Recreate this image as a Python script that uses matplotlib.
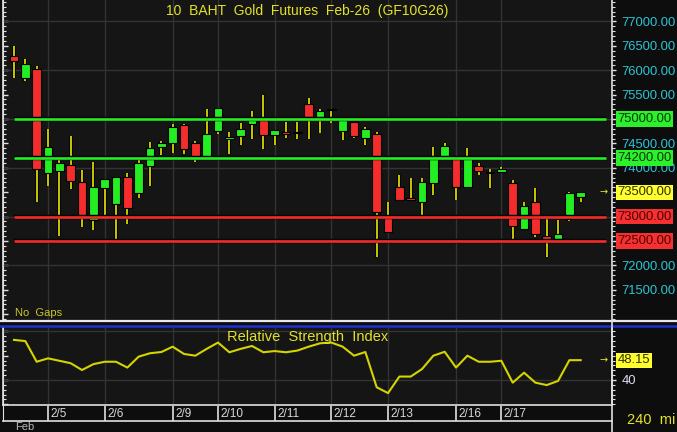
import matplotlib
matplotlib.use('Agg')
import matplotlib.pyplot as plt
import matplotlib.transforms as mtransforms
from matplotlib.lines import Line2D
from matplotlib.ticker import MultipleLocator, FixedLocator, FuncFormatter

# ---------------- data ----------------
opens  = [76290, 75850, 76020, 73900, 73930, 74050, 73700, 72940, 73590, 73250,
          73810, 73480, 74030, 74430, 74500, 74870, 74500, 74200, 74750, 74600,
          74650, 74900, 74970, 74680, 74740, 74710, 75310, 74990, 75210, 74750,
          74940, 74620, 74700, 73010, 73600, 73390, 73300, 73680, 74190, 74170,
          73600, 74040, 73890, 73910, 73680, 72740, 73300, 72600, 72520, 72950,
          73410]
highs  = [76500, 76220, 76090, 74800, 74190, 74650, 73960, 74120, 73780, 73810,
          73900, 74190, 74530, 74550, 74900, 74900, 74550, 75200, 75220, 74740,
          74920, 75170, 75500, 74770, 74940, 74940, 75440, 75200, 75210, 75040,
          74940, 74840, 74730, 73300, 73850, 73800, 73800, 74420, 74500, 74190,
          74400, 74090, 73970, 74020, 73750, 73300, 73580, 72990, 72930, 73500,
          73500]
lows   = [75830, 75780, 73300, 73630, 72600, 73570, 72780, 72720, 73010, 72520,
          72850, 73380, 73630, 74260, 74300, 74280, 74120, 74180, 74700, 74280,
          74470, 74580, 74380, 74470, 74620, 74600, 74580, 74710, 74920, 74570,
          74620, 74470, 72180, 72680, 73350, 73350, 73030, 73440, 74190, 73330,
          73580, 73850, 73580, 73910, 72540, 72740, 72590, 72180, 72520, 72910,
          73290]
closes = [76180, 76120, 73980, 74420, 74100, 73730, 73010, 73600, 73780, 73810,
          73180, 74100, 74410, 74510, 74840, 74380, 74230, 74700, 75220, 74640,
          74800, 75010, 74680, 74770, 74690, 74740, 75040, 75160, 75180, 74990,
          74650, 74790, 73100, 72680, 73350, 73350, 73700, 74250, 74450, 73610,
          74240, 73940, 73920, 73970, 72810, 73220, 72640, 72520, 72650, 73480,
          73500]
rsi = [56.5, 56.0, 47.5, 48.9, 47.9, 46.9, 44.1, 46.5, 47.5, 47.5,
       45.1, 49.6, 51.0, 51.5, 53.7, 50.7, 50.0, 52.8, 55.4, 51.4,
       52.8, 54.0, 51.4, 51.9, 51.4, 52.1, 53.7, 55.1, 55.4, 53.7,
       50.0, 51.5, 37.0, 34.6, 41.4, 41.4, 44.5, 50.0, 51.6, 45.1,
       50.0, 47.5, 47.5, 47.9, 38.9, 43.0, 38.9, 37.9, 39.6, 48.15,
       48.15]
day_labels = ['2/5', '2/6', '2/9', '2/10', '2/11', '2/12', '2/13', '2/16', '2/17']
day_start_idx = [3, 8, 14, 18, 23, 28, 33, 39, 43]
resistance_levels = [75000, 74200]
support_levels = [73000, 72500]
last_price = 73500
last_rsi = 48.15
price_ticks = [71500, 72000, 72500, 73000, 73500, 74000, 74500, 75000, 75500,
               76000, 76500, 77000]
price_grid = [72000, 73000, 74000, 75000, 76000, 77000]
rsi_ticks = [40]
rsi_grid = [40, 60]
title = '10  BAHT  Gold  Futures  Feb-26  (GF10G26)'

# ---------------- style ----------------
W, H = 677, 432
FIG_BG = '#0d0d0d'
AX_BG = '#151515'
GRID = '#333333'
GREEN = '#22ee22'
RED = '#f42c2c'
WICK = '#c8c800'
YEL = '#e2e22a'
CYAN = '#2ec3d3'
FONT = 'Liberation Sans'
LABEL_FS = 9.4
plt.rcParams['font.family'] = [FONT, 'DejaVu Sans']

fig = plt.figure(figsize=(W / 100, H / 100), dpi=100, facecolor=FIG_BG)

def fx(px):
    return px / W

def fy(py):
    return 1 - py / H

AX_L, AX_R = 3, 612
ax = fig.add_axes([fx(AX_L), fy(321), fx(AX_R - AX_L), (321 - 0) / H], facecolor=AX_BG)
axr = fig.add_axes([fx(AX_L), fy(405), fx(AX_R - AX_L), (405 - 327) / H], facecolor=AX_BG, sharex=ax)
axd = fig.add_axes([fx(AX_L), fy(421), fx(AX_R - AX_L), (421 - 405.5) / H], facecolor=FIG_BG, sharex=ax)

n = len(closes)
xs = list(range(n))
ax.set_xlim(-0.97, 52.76)
ax.set_ylim(70861, 77438)
axr.set_ylim(29.7, 61.8)

# grid
for g in price_grid:
    ax.axhline(g, color=GRID, lw=1.0, zorder=0.5)
for d in day_start_idx:
    ax.axvline(d, color=GRID, lw=1.0, zorder=0.5)
    axr.axvline(d, color=GRID, lw=1.0, zorder=0.5)
for g in rsi_grid:
    axr.axhline(g, color=GRID, lw=1.0, zorder=0.5)

# candles
for i in xs:
    o, h, l, c = opens[i], highs[i], lows[i], closes[i]
    col = GREEN if c >= o else RED
    ax.vlines(i, l, h, color='#000000', lw=2.6, zorder=1)
    ax.vlines(i, l, h, color=WICK, lw=1.4, zorder=1.1)
    body = max(abs(c - o), 35)
    bottom = min(o, c) if abs(c - o) >= 35 else (o + c) / 2 - body / 2
    ax.bar(i, body, bottom=bottom, width=0.77, color=col, edgecolor='#000000',
           linewidth=0.8, zorder=2)

# level lines
xr = ax.get_xlim()[1]
for lvl in resistance_levels:
    ax.hlines(lvl, 0, xr - 0.55, color='#000000', lw=3.2, zorder=3)
    ax.hlines(lvl, 0, xr - 0.55, color=GREEN, lw=1.9, zorder=3.1)
for lvl in support_levels:
    ax.hlines(lvl, 0, xr - 0.55, color='#000000', lw=3.2, zorder=3)
    ax.hlines(lvl, 0, xr - 0.55, color=RED, lw=1.9, zorder=3.1)

# rsi line
axr.plot(xs, rsi, color='#d4d400', lw=1.5, zorder=3)

# ---- axes styling ----
for a in (ax, axr):
    for s in a.spines.values():
        s.set_visible(False)
    a.spines['left'].set_visible(True)
    a.spines['left'].set_color('#e0e0e0')
    a.spines['left'].set_linewidth(1.2)
    a.spines['right'].set_visible(True)
    a.spines['right'].set_color('#e0e0e0')
    a.spines['right'].set_linewidth(1.2)
    a.tick_params(axis='x', which='both', bottom=False, top=False,
                  labelbottom=False, labeltop=False)

highlighted = set(resistance_levels) | set(support_levels) | {last_price}
ax.yaxis.tick_right()
ax.yaxis.set_major_locator(FixedLocator(price_ticks))
ax.yaxis.set_minor_locator(MultipleLocator(100))
ax.yaxis.set_major_formatter(FuncFormatter(
    lambda v, p: '' if round(v) in highlighted else f'{v:.2f}'))
ax.tick_params(axis='y', which='major', colors='#e0e0e0', length=3.2, width=1,
               direction='out', labelcolor=CYAN, labelsize=LABEL_FS, pad=3.5)
ax.tick_params(axis='y', which='minor', colors='#e0e0e0', length=1.8, width=0.8,
               direction='out')
secl = ax.secondary_yaxis('left')
secl.yaxis.set_major_locator(MultipleLocator(500))
secl.yaxis.set_minor_locator(MultipleLocator(100))
secl.tick_params(axis='y', which='major', colors='#e0e0e0', length=3.5, width=1,
                 direction='in', labelleft=False)
secl.tick_params(axis='y', which='minor', colors='#e0e0e0', length=2.2, width=0.8,
                 direction='in')
secl.spines['left'].set_color('#e0e0e0')

axr.yaxis.tick_right()
axr.yaxis.set_major_locator(FixedLocator(rsi_ticks))
axr.yaxis.set_minor_locator(MultipleLocator(2))
axr.yaxis.set_major_formatter(FuncFormatter(lambda v, p: f'{v:.0f}'))
axr.tick_params(axis='y', which='major', colors='#e0e0e0', length=3.2, width=1,
                direction='out', labelcolor='#dcdcf4', labelsize=LABEL_FS, pad=3.5)
axr.tick_params(axis='y', which='minor', colors='#e0e0e0', length=1.8, width=0.8,
                direction='out')
secr = axr.secondary_yaxis('left')
secr.yaxis.set_major_locator(MultipleLocator(10))
secr.yaxis.set_minor_locator(MultipleLocator(2))
secr.tick_params(axis='y', which='major', colors='#e0e0e0', length=3.5, width=1,
                 direction='in', labelleft=False)
secr.tick_params(axis='y', which='minor', colors='#e0e0e0', length=2.2, width=0.8,
                 direction='in')
secr.spines['left'].set_color('#e0e0e0')
axr.spines['bottom'].set_visible(True)
axr.spines['bottom'].set_color('#e0e0e0')
axr.spines['bottom'].set_linewidth(1.2)

# highlighted price labels
trans = mtransforms.blended_transform_factory(ax.transAxes, ax.transData)
lab_x = (617.5 - AX_L) / (AX_R - AX_L)

def price_box(a, tr, y, txt, bg, fg):
    a.text(lab_x, y, txt, transform=tr, ha='left', va='center', fontsize=LABEL_FS,
           color=fg, zorder=10, clip_on=False,
           bbox=dict(boxstyle='square,pad=0.12', facecolor=bg, edgecolor='none'))

for lvl in resistance_levels:
    price_box(ax, trans, lvl, f'{lvl:.2f}', '#2cf02c', '#083808')
price_box(ax, trans, last_price, f'{last_price:.2f}', '#ffff30', '#303000')
for lvl in support_levels:
    price_box(ax, trans, lvl, f'{lvl:.2f}', '#f43030', '#500000')

transr = mtransforms.blended_transform_factory(axr.transAxes, axr.transData)
price_box(axr, transr, last_rsi, f'{last_rsi:.2f}', '#ffff30', '#303000')

# small arrows at the right edge
arr_x = (604 - AX_L) / (AX_R - AX_L)
ax.text(arr_x, last_price, '→', transform=trans, ha='center', va='center',
        fontsize=7, color=YEL, family='DejaVu Sans', zorder=10)
axr.text(arr_x, last_rsi, '→', transform=transr, ha='center', va='center',
         fontsize=7, color=YEL, family='DejaVu Sans', zorder=10)

# titles
ax.text(0.5, 1 - 11.5 / 321, title, transform=ax.transAxes,
        ha='center', va='center', fontsize=10, color=YEL, zorder=10)
ax.text((15 - AX_L) / (AX_R - AX_L), 1 - 313 / 321, 'No  Gaps', transform=ax.transAxes,
        ha='left', va='center', fontsize=8, color='#c8c828', zorder=10)
axr.text(0.5, 1 - (337 - 327) / 78, 'Relative  Strength  Index', transform=axr.transAxes,
         ha='center', va='center', fontsize=10.5, color=YEL, zorder=10)

# date strip
axd.set_ylim(0, 1)
for s in axd.spines.values():
    s.set_visible(False)
axd.spines['bottom'].set_visible(True)
axd.spines['bottom'].set_color('#e0e0e0')
axd.spines['bottom'].set_linewidth(1.2)
axd.spines['left'].set_visible(True)
axd.spines['left'].set_color('#e0e0e0')
axd.tick_params(left=False, bottom=False, labelleft=False, labelbottom=False)
for d, lab in zip(day_start_idx, day_labels):
    axd.axvline(d, color='#e0e0e0', lw=1.2)
    axd.annotate(lab, (d, 0.45), xytext=(1.8, 0), textcoords='offset points',
                 ha='left', va='center', fontsize=8.5, color='#d8d8d8')

# panel separators and frame
fig.add_artist(Line2D([0, 1], [fy(321), fy(321)], transform=fig.transFigure,
                      color='#e8e8e8', lw=1.6))
fig.add_artist(Line2D([0, 1], [fy(325.5), fy(325.5)], transform=fig.transFigure,
                      color='#1c30d0', lw=1.8))
fig.add_artist(Line2D([fx(AX_R), fx(AX_R)], [fy(321), 0], transform=fig.transFigure,
                      color='#e0e0e0', lw=1.2))

fig.text(fx(15), fy(427.5), 'Feb', ha='left', va='center', fontsize=8, color='#b8b8b8')
fig.text(fx(627), fy(420), '240  mi', ha='left', va='center', fontsize=10.5, color=YEL)

fig.savefig('out.png', dpi=100, facecolor=FIG_BG)
